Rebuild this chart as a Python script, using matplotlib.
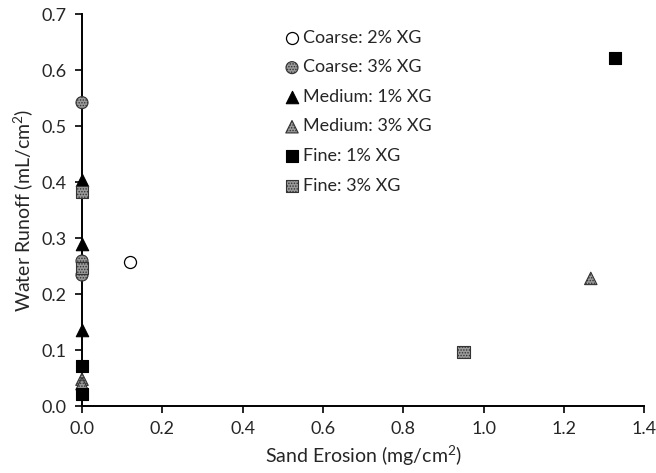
import matplotlib
matplotlib.use("Agg")
import matplotlib.pyplot as plt

plt.rcParams['font.family'] = ['Lato', 'DejaVu Sans']
plt.rcParams['mathtext.default'] = 'regular'
plt.rcParams['hatch.linewidth'] = 0.7

# sand erosion (mg/cm2) and water runoff (mL/cm2) per treatment
coarse2_x = [0.12]
coarse2_y = [0.257]
coarse3_x = [0.0, 0.0, 0.0]
coarse3_y = [0.542, 0.259, 0.234]
medium1_x = [0.0, 0.0, 0.0]
medium1_y = [0.404, 0.289, 0.135]
medium3_x = [0.0, 0.0, 1.267]
medium3_y = [0.048, 0.040, 0.228]
fine1_x = [0.0, 0.0, 1.327]
fine1_y = [0.072, 0.021, 0.621]
fine3_x = [0.0, 0.0, 0.95]
fine3_y = [0.383, 0.247, 0.096]

labels = ['Coarse: 2% XG', 'Coarse: 3% XG', 'Medium: 1% XG',
          'Medium: 3% XG', 'Fine: 1% XG', 'Fine: 3% XG']

fig = plt.figure(figsize=(6.56, 4.73), dpi=100)
ax = fig.add_axes([0.125, 0.1416, 0.857, 0.8284])

grey = '#9a9a9a'
edge = '#333333'
kw = dict(zorder=3, clip_on=False)
ax.scatter(coarse2_x, coarse2_y, s=75, marker='o', facecolor='white',
           edgecolor='black', linewidth=0.9, label=labels[0], **kw)
ax.scatter(coarse3_x, coarse3_y, s=75, marker='o', facecolor=grey,
           edgecolor=edge, hatch='......', linewidth=0.8, label=labels[1], **kw)
ax.scatter(medium1_x, medium1_y, s=80, marker='^', facecolor='black',
           edgecolor='black', linewidth=0.8, label=labels[2], **kw)
ax.scatter(medium3_x, medium3_y, s=80, marker='^', facecolor=grey,
           edgecolor=edge, hatch='......', linewidth=0.8, label=labels[3], **kw)
ax.scatter(fine1_x, fine1_y, s=75, marker='s', facecolor='black',
           edgecolor='black', linewidth=0.8, label=labels[4], **kw)
ax.scatter(fine3_x, fine3_y, s=75, marker='s', facecolor=grey,
           edgecolor=edge, hatch='......', linewidth=0.8, label=labels[5], **kw)

ax.set_xlim(0, 1.4)
ax.set_ylim(0, 0.7)
ax.set_xticks([0.0, 0.2, 0.4, 0.6, 0.8, 1.0, 1.2, 1.4])
ax.set_yticks([0.0, 0.1, 0.2, 0.3, 0.4, 0.5, 0.6, 0.7])
ax.xaxis.set_major_formatter(matplotlib.ticker.FormatStrFormatter('%.1f'))
ax.yaxis.set_major_formatter(matplotlib.ticker.FormatStrFormatter('%.1f'))

for side in ['top', 'right']:
    ax.spines[side].set_visible(False)
for side in ['left', 'bottom']:
    ax.spines[side].set_linewidth(1.4)
    ax.spines[side].set_color('black')
ax.tick_params(direction='out', length=5, width=1.2, labelsize=13,
               colors='black', labelcolor='#262626', pad=6)

ax.set_xlabel('Sand Erosion (mg/cm$^2$)', fontsize=14, color='#262626', labelpad=5)
ax.set_ylabel('Water Runoff (mL/cm$^2$)', fontsize=14, color='#262626', labelpad=5)

ax.legend(loc='upper left', bbox_to_anchor=(0.335, 0.99), frameon=False,
          fontsize=13, handletextpad=0.05, labelspacing=0.75,
          borderpad=0.15, handlelength=1.1, scatterpoints=1,
          labelcolor='#262626')

fig.savefig('out.png', dpi=100)
